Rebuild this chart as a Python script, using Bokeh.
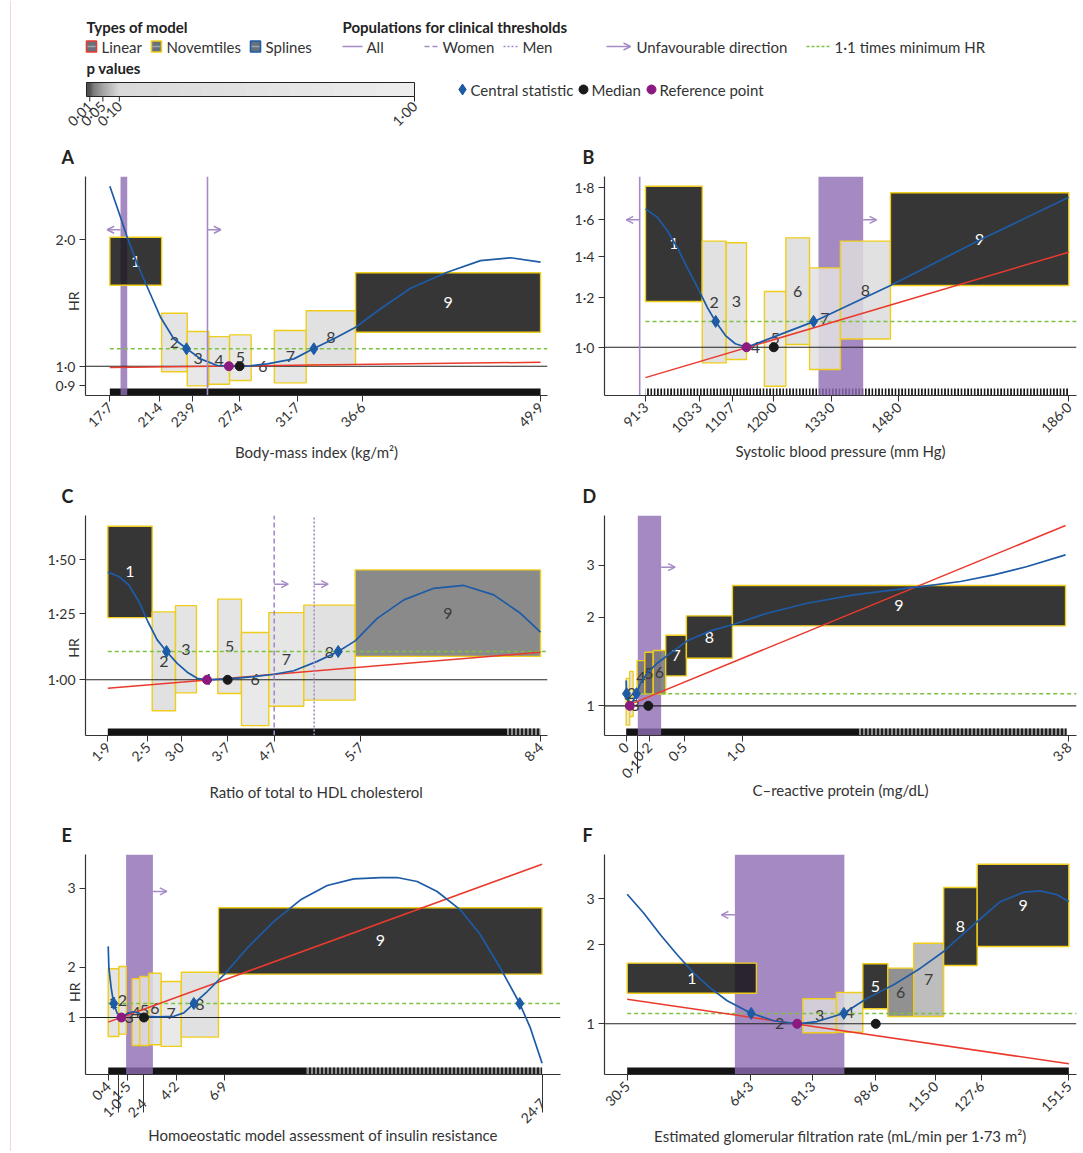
import numpy as np
from math import pi, sqrt
from bokeh.plotting import figure
from bokeh.layouts import column, row
from bokeh.models import Range1d, FixedTicker, Arrow, OpenHead, LinearAxis
from bokeh.core.properties import value
from bokeh.embed import file_html
from bokeh.resources import INLINE

NAN = float("nan")

# ---------------- Panel A: body-mass index ----------------
A_X_TICKS = [17.7, 21.4, 23.9, 27.4, 31.7, 36.6, 49.9]
A_X_LABELS = ["17·7", "21·4", "23·9", "27·4", "31·7", "36·6", "49·9"]
A_Y_TICKS = [0.9, 1.0, 2.0]
A_Y_LABELS = ["0·9", "1·0", "2·0"]
A_EDGES = [17.7, 21.57, 23.49, 25.1, 26.65, 28.27, 30.0, 32.38, 36.07, 49.9]
A_LOWER = [1.557, 0.970, 0.898, 0.906, 0.925, NAN, 0.913, 1.009, 1.204]
A_UPPER = [2.025, 1.336, 1.209, 1.176, 1.187, NAN, 1.216, 1.354, 1.667]
A_PVAL = [0.001, 0.70, 0.85, 0.80, 0.85, NAN, 0.80, 0.60, 0.001]
A_SPLINE_X = [17.7, 18.37, 19.0, 19.75, 20.44, 21.49, 22.48, 23.43, 24.48, 25.73, 26.6, 28.2,
              29.47, 31.46, 32.95, 34.45, 36.07, 37.94, 40.18, 42.92, 45.41, 47.66, 49.9]
A_SPLINE_HR = [2.677, 2.322, 2.025, 1.751, 1.557, 1.307, 1.162, 1.102, 1.041, 1.004, 1.0, 1.002,
               1.013, 1.041, 1.102, 1.162, 1.238, 1.369, 1.532, 1.672, 1.782, 1.810, 1.767]
A_LINEAR_X = [17.7, 49.9]
A_LINEAR_HR = [0.993, 1.022]
A_MIN_HR = 1.0
A_CENTRAL_X = [23.43, 32.95]
A_MEDIAN = 27.4
A_REFERENCE = 26.6
A_BANDS = [(18.5, 19.0)]
A_LINES = [(25.0, "all")]

# ---------------- Panel B: systolic blood pressure ----------------
B_X_TICKS = [91.3, 103.3, 110.7, 120.0, 133.0, 148.0, 186.0]
B_X_LABELS = ["91·3", "103·3", "110·7", "120·0", "133·0", "148·0", "186·0"]
B_Y_TICKS = [1.0, 1.2, 1.4, 1.6, 1.8]
B_Y_LABELS = ["1·0", "1·2", "1·4", "1·6", "1·8"]
B_EDGES = [91.3, 104.0, 109.35, 113.9, 117.9, 122.7, 128.0, 134.9, 146.1, 186.0]
B_LOWER = [1.184, 0.944, 0.956, NAN, 0.866, 1.010, 0.921, 1.031, 1.256]
B_UPPER = [1.811, 1.479, 1.470, NAN, 1.228, 1.497, 1.340, 1.479, 1.768]
B_PVAL = [0.001, 0.60, 0.70, NAN, 0.90, 0.60, 0.80, 0.60, 0.001]
B_SPLINE_X = [91.3, 93.9, 96.15, 98.4, 100.6, 102.9, 105.1, 107.0, 109.2, 111.4, 113.9, 117.0,
              119.9, 128.9, 146.1, 166.2, 186.0]
B_SPLINE_HR = [1.666, 1.616, 1.538, 1.446, 1.343, 1.248, 1.159, 1.099, 1.044, 1.013, 1.0, 1.019,
               1.038, 1.099, 1.256, 1.486, 1.739]
B_LINEAR_X = [91.3, 186.0]
B_LINEAR_HR = [0.894, 1.420]
B_MIN_HR = 1.0
B_CENTRAL_X = [107.0, 128.9]
B_MEDIAN = 120.0
B_REFERENCE = 113.9
B_BANDS = [(130.0, 140.0)]
B_LINES = [(90.0, "all")]

# ---------------- Panel C: total/HDL cholesterol ----------------
C_X_TICKS = [1.9, 2.5, 3.0, 3.7, 4.4, 5.7, 8.4]      # tick positions as drawn
C_X_LABELS = ["1·9", "2·5", "3·0", "3·7", "4·7", "5·7", "8·4"]
C_Y_TICKS = [1.0, 1.25, 1.5]
C_Y_LABELS = ["1·00", "1·25", "1·50"]
C_EDGES = [1.9, 2.567, 2.917, 3.232, 3.552, 3.908, 4.319, 4.844, 5.616, 8.4]
C_LOWER = [1.233, 0.901, 0.957, NAN, 0.955, 0.857, 0.915, 0.934, 1.082]
C_UPPER = [1.677, 1.257, 1.284, NAN, 1.312, 1.173, 1.254, 1.286, 1.448]
C_PVAL = [0.001, 0.60, 0.70, NAN, 0.70, 0.90, 0.80, 0.60, 0.04]
C_SPLINE_X = [1.9, 2.065, 2.215, 2.366, 2.501, 2.642, 2.782, 2.943, 3.093, 3.243, 3.393, 3.728,
              4.093, 4.394, 4.694, 5.046, 5.361, 5.616, 5.947, 6.347, 6.797, 7.248, 7.698, 8.099, 8.4]
C_SPLINE_HR = [1.437, 1.416, 1.377, 1.302, 1.217, 1.144, 1.100, 1.057, 1.026, 1.005, 1.0, 1.003,
               1.011, 1.019, 1.031, 1.064, 1.100, 1.140, 1.230, 1.309, 1.361, 1.374, 1.331, 1.251, 1.174]
C_LINEAR_X = [1.9, 8.4]
C_LINEAR_HR = [0.972, 1.097]
C_MIN_HR = 1.0
C_CENTRAL_X = [2.782, 5.361]
C_MEDIAN = 3.7
C_REFERENCE = 3.39
C_BANDS = []
C_LINES = [(4.4, "women"), (5.0, "men")]

# ---------------- Panel D: C-reactive protein ----------------
D_X_TICKS = [0.0, 0.1, 0.2, 0.5, 1.0, 3.8]
D_X_LABELS = ["0", "0·1", "0·2", "0·5", "1·0", "3·8"]
D_X_LOW = [0.1]
D_Y_TICKS = [1.0, 2.0, 3.0]
D_Y_LABELS = ["1", "2", "3"]
D_EDGES = [0.0, 0.03, 0.06, 0.094, 0.16, 0.232, 0.339, 0.517, 0.912, 3.771]
D_LOWER = [0.86, 0.92, NAN, 1.098, 1.098, 1.098, 1.264, 1.451, 1.870]
D_UPPER = [1.24, 1.31, NAN, 1.425, 1.521, 1.541, 1.737, 2.022, 2.563]
D_PVAL = [0.80, 0.70, NAN, 0.04, 0.025, 0.04, 0.001, 0.001, 0.001]
D_SPLINE_X = [0.0, 0.003, 0.015, 0.031, 0.06, 0.088, 0.123, 0.18, 0.266, 0.38, 0.524, 0.724,
              0.924, 1.21, 1.554, 1.954, 2.297, 2.526, 2.87, 3.155, 3.442, 3.771]
D_SPLINE_HR = [1.22, 1.10, 1.04, 1.0, 1.04, 1.10, 1.193, 1.291, 1.396, 1.509, 1.663, 1.798,
               1.894, 2.064, 2.232, 2.383, 2.479, 2.543, 2.645, 2.787, 2.974, 3.259]
D_LINEAR_X = [0.03, 3.771]
D_LINEAR_HR = [1.01, 4.10]
D_MIN_HR = 1.0
D_CENTRAL_X = [0.003, 0.088]
D_MEDIAN = 0.19
D_REFERENCE = 0.031
D_BANDS = [(0.1, 0.3)]
D_LINES = []

# ---------------- Panel E: HOMA-IR ----------------
E_X_TICKS = [0.4, 1.0, 1.5, 2.4, 4.2, 6.9, 24.7]
E_X_LABELS = ["0·4", "1·0", "1·5", "2·4", "4·2", "6·9", "24·7"]
E_X_LOW = [1.0, 2.4, 24.7]
E_Y_TICKS = [1.0, 1.533, 3.0]     # tick positions as drawn
E_Y_LABELS = ["1", "2", "3"]
E_EDGES = [0.4, 0.99, 1.41, 1.742, 2.167, 2.671, 3.364, 4.49, 6.57, 24.67]
E_LOWER = [0.851, 0.868, NAN, 0.788, 0.788, 0.793, 0.782, 0.846, 1.445]
E_UPPER = [1.513, 1.542, NAN, 1.389, 1.417, 1.457, 1.358, 1.469, 2.540]
E_PVAL = [0.70, 0.70, NAN, 0.80, 0.80, 0.70, 0.90, 0.60, 0.001]
E_SPLINE_X = [0.40, 0.44, 0.57, 0.71, 0.90, 1.14, 1.45, 1.75, 2.10, 2.43, 3.14, 4.07, 4.63, 5.19,
              5.94, 6.87, 8.17, 9.66, 11.16, 12.65, 14.14, 15.63, 16.56, 17.68, 18.80, 20.10,
              21.22, 22.34, 23.42, 24.02, 24.67]
E_SPLINE_HR = [1.83, 1.52, 1.28, 1.126, 1.037, 1.0, 1.03, 1.05, 1.04, 1.01, 1.005, 1.01, 1.04,
               1.126, 1.247, 1.437, 1.802, 2.260, 2.718, 3.069, 3.249, 3.285, 3.285, 3.176, 2.917,
               2.497, 2.019, 1.520, 1.126, 0.913, 0.678]
E_LINEAR_X = [0.4, 24.67]
E_LINEAR_HR = [0.961, 3.678]
E_MIN_HR = 1.024
E_CENTRAL_X = [0.71, 5.19, 23.42]
E_MEDIAN = 2.4
E_REFERENCE = 1.14
E_BANDS = [(1.4, 2.9)]
E_LINES = []

# ---------------- Panel F: eGFR ----------------
F_X_TICKS = [30.5, 64.3, 81.3, 98.6, 115.0, 127.6, 151.5]
F_X_LABELS = ["30·5", "64·3", "81·3", "98·6", "115·0", "127·6", "151·5"]
F_Y_TICKS = [1.0, 2.0, 3.0]
F_Y_LABELS = ["1", "2", "3"]
F_EDGES = [30.5, 65.9, 78.6, 87.8, 95.05, 101.9, 109.0, 117.2, 126.4, 151.5]
F_LOWER = [1.308, NAN, 0.924, 0.929, 1.141, 1.066, 1.066, 1.668, 1.970]
F_UPPER = [1.702, NAN, 1.245, 1.316, 1.693, 1.629, 2.028, 3.306, 4.055]
F_PVAL = [0.001, NAN, 0.50, 0.45, 0.002, 0.045, 0.08, 0.001, 0.001]
F_SPLINE_X = [30.5, 35.05, 39.6, 44.2, 48.75, 53.3, 57.9, 64.47, 70.67, 77.07, 82.55, 89.85, 96.25,
              103.5, 110.85, 117.2, 121.8, 126.4, 132.8, 139.2, 143.7, 148.3, 151.5]
F_SPLINE_HR = [3.117, 2.638, 2.183, 1.832, 1.559, 1.367, 1.224, 1.097, 1.027, 1.0, 1.020, 1.097,
               1.252, 1.408, 1.629, 1.886, 2.151, 2.453, 2.924, 3.172, 3.211, 3.101, 2.924]
F_LINEAR_X = [30.5, 151.5]
F_LINEAR_HR = [1.241, 0.704]
F_MIN_HR = 0.996
F_CENTRAL_X = [64.47, 89.85]
F_MEDIAN = 98.6
F_REFERENCE = 77.07
F_BANDS = [(60.0, 90.0)]
F_LINES = []

# p-value colour scale
P_STOPS = [0.0, 0.01, 0.02, 0.05, 0.10, 1.0]
LUM_STOPS = [18, 30, 80, 135, 205, 232]
LEGEND_P_TICKS = [0.01, 0.05, 0.10, 1.00]
LEGEND_P_LABELS = ["0·01", "0·05", "0·10", "1·00"]

# ---------------- styling ----------------
FONT = "Lato"
TXT = "#333333"
PURPLE_LINE = "#a48bc6"
PURPLE_BAND = "#8e6bb3"
YELLOW = "#f0cd1c"
BLUE = "#1d5ba6"
RED = "#ea3a2e"
GREEN = "#7cc143"
MAGENTA = "#8a1a7f"
RUG = "#141414"
FRAME_PINK = "#e6a9bb"
DASH = {"all": "solid", "women": "5 3", "men": "2 2"}
STRIP = 11          # width of the left page-border strip


def gray(p):
    v = int(round(float(np.interp(p, P_STOPS, LUM_STOPS))))
    return "#{0:02x}{0:02x}{0:02x}".format(v)


def style_axis(ax):
    ax.axis_line_color = "#333333"
    ax.axis_line_width = 1.2
    ax.major_tick_line_color = "#333333"
    ax.major_tick_out = 6
    ax.major_tick_in = 0
    ax.minor_tick_line_color = None
    ax.major_label_text_font = FONT
    ax.major_label_text_font_size = "14px"
    ax.major_label_text_color = TXT
    ax.axis_label_text_font = FONT
    ax.axis_label_text_font_size = "15px"
    ax.axis_label_text_color = TXT
    ax.axis_label_text_font_style = "normal"


def build(c, L):
    xs, xe = L["xr"]
    ys, ye = L["yr"]
    fw, fh = L["fw"], L["fh"]

    p = figure(frame_width=fw, frame_height=fh, x_range=Range1d(xs, xe), y_range=Range1d(ys, ye),
               y_axis_type="log", output_backend="svg", toolbar_location=None,
               min_border_left=L["bl"], min_border_right=L["br"], min_border_top=L["bt"],
               min_border_bottom=L["bb"], title=c["letter"])
    p.outline_line_color = None
    p.grid.visible = False
    t = p.title
    t.text_font = FONT
    t.text_font_size = "18px"
    t.text_font_style = "bold"
    t.text_color = "#222222"
    t.align = "left"
    t.offset = L["toff"]
    t.standoff = 18

    # rug of observations
    for a, b, kind in L["rug"]:
        kw = dict(x=[(a + b) / 2], y=[ys], width=[b - a], height=14, height_units="screen", line_color=None)
        if kind == "dense":
            p.rect(fill_color=RUG, **kw)
        elif kind == "sparse":
            p.rect(fill_color="#8a8a8a", hatch_pattern="vertical_line", hatch_color=RUG,
                   hatch_scale=4, hatch_weight=1.8, **kw)
        else:
            p.rect(fill_color="white", hatch_pattern="vertical_line", hatch_color=RUG,
                   hatch_scale=3.3, hatch_weight=1.9, **kw)

    # clinical threshold bands
    for a, b in c["bands"]:
        p.quad(left=[a], right=[b], bottom=[ys], top=[ye], fill_color=PURPLE_BAND, fill_alpha=0.8,
               line_color=None)

    # novemtile boxes
    e = c["edges"]
    lx, ly, lt, lc = [], [], [], []
    for i in range(9):
        xm = (e[i] + e[i + 1]) / 2
        lo, hi, pv = c["lower"][i], c["upper"][i], c["pval"][i]
        lx.append(xm)
        lt.append(str(i + 1))
        if np.isnan(lo):
            ly.append(1.0)
            lc.append("#3a3a3a")
            continue
        p.quad(left=[e[i]], right=[e[i + 1]], bottom=[lo], top=[hi], fill_color=gray(pv),
               fill_alpha=0.85, line_color=YELLOW, line_width=1.4)
        ly.append(sqrt(lo * hi))
        lc.append("white" if pv < 0.01 else "#3a3a3a")
    p.text(x=lx, y=ly, text=lt, text_color=lc, text_font=value(FONT), text_font_size="16px",
           text_align="center", text_baseline="middle")

    # reference lines
    p.segment(x0=[xs], x1=[xe], y0=[1.0], y1=[1.0], line_color="#222222", line_width=1.1)
    g = 1.1 * c["min_hr"]
    p.segment(x0=[c["xt"][0]], x1=[xe], y0=[g], y1=[g], line_color=GREEN, line_width=1.5,
              line_dash="4 3")

    # models
    p.line(c["lin_x"], c["lin_hr"], line_color=RED, line_width=1.5)
    p.line(c["spl_x"], c["spl_hr"], line_color=BLUE, line_width=1.7)

    # clinical threshold lines
    for xv, who in c["lines"]:
        p.segment(x0=[xv], x1=[xv], y0=[ys], y1=[ye], line_color=PURPLE_LINE, line_width=1.6,
                  line_dash=DASH[who])
    for x0, x1, yv in L["arrows"]:
        p.add_layout(Arrow(end=OpenHead(size=7, line_color=PURPLE_LINE, line_width=1.5),
                           x_start=x0, y_start=yv, x_end=x1, y_end=yv,
                           line_color=PURPLE_LINE, line_width=1.5))

    # points
    p.scatter(c["central"], [g] * len(c["central"]), marker="diamond", size=12,
              fill_color=BLUE, line_color=BLUE)
    p.scatter([c["median"]], [1.0], size=9, fill_color="#1a1a1a", line_color="#1a1a1a")
    p.scatter([c["reference"]], [1.0], size=9, fill_color=MAGENTA, line_color=MAGENTA)

    # x axis
    xa = p.xaxis[0]
    style_axis(xa)
    low = c.get("low", [])
    xa.ticker = FixedTicker(ticks=c["xt"])
    xa.major_label_overrides = {tv: ("" if tv in low else lab) for tv, lab in zip(c["xt"], c["xl"])}
    xa.major_label_orientation = pi / 4
    xa.major_label_standoff = 3
    if low:
        # second row of (staggered) tick labels for crowded ticks, with long ticks
        ax2 = LinearAxis(ticker=FixedTicker(ticks=low),
                         major_label_overrides={tv: lab for tv, lab in zip(c["xt"], c["xl"]) if tv in low})
        style_axis(ax2)
        ax2.axis_line_color = None
        ax2.major_tick_out = 0
        ax2.major_tick_in = L["low_tick"]
        ax2.major_label_orientation = pi / 4
        ax2.major_label_standoff = L["low_stand"]
        ax2.axis_label = c["xlabel"]
        ax2.axis_label_standoff = L["xstand"]
        p.add_layout(ax2, "below")
    else:
        xa.axis_label = c["xlabel"]
        xa.axis_label_standoff = L["xstand"]

    # y axis
    ya = p.yaxis[0]
    style_axis(ya)
    ya.ticker = FixedTicker(ticks=c["yt"])
    ya.major_label_overrides = dict(zip(c["yt"], c["yl"]))
    ya.major_label_standoff = 4
    if L.get("hr") is not None:
        hr_ax = LinearAxis(ticker=FixedTicker(ticks=[L["hr"]]), major_label_overrides={L["hr"]: "HR"})
        style_axis(hr_ax)
        hr_ax.axis_line_color = None
        hr_ax.major_tick_line_color = None
        hr_ax.major_tick_out = 0
        hr_ax.major_label_orientation = pi / 2
        hr_ax.major_label_standoff = L["hr_stand"]
        p.add_layout(hr_ax, "left")
    return p


def cfg(letter, xlabel, pre, **extra):
    g = globals()
    d = dict(letter=letter, xlabel=xlabel, xt=g[pre + "_X_TICKS"], xl=g[pre + "_X_LABELS"],
             yt=g[pre + "_Y_TICKS"], yl=g[pre + "_Y_LABELS"], edges=g[pre + "_EDGES"],
             lower=g[pre + "_LOWER"], upper=g[pre + "_UPPER"], pval=g[pre + "_PVAL"],
             spl_x=g[pre + "_SPLINE_X"], spl_hr=g[pre + "_SPLINE_HR"], lin_x=g[pre + "_LINEAR_X"],
             lin_hr=g[pre + "_LINEAR_HR"], min_hr=g[pre + "_MIN_HR"], central=g[pre + "_CENTRAL_X"],
             median=g[pre + "_MEDIAN"], reference=g[pre + "_REFERENCE"], bands=g[pre + "_BANDS"],
             lines=g[pre + "_LINES"])
    d.update(extra)
    return d


BL = 85 - STRIP
pA = build(cfg("A", "Body-mass index (kg/m²)", "A"),
           dict(xr=(15.88, 50.42), yr=(0.852, 2.823), fw=462, fh=219, bl=BL, br=16, bt=42, bb=78,
                toff=-24, xstand=4, hr=1.505, hr_stand=-21,
                rug=[(17.7, 49.9, "dense")],
                arrows=[(18.5, 17.5, 2.11), (25.0, 26.0, 2.11)]))
pB = build(cfg("B", "Systolic blood pressure (mm Hg)", "B"),
           dict(xr=(82.13, 187.72), yr=(0.837, 1.877), fw=472, fh=219, bl=41, br=4, bt=42, bb=78,
                toff=-22, xstand=-3, hr=None,
                rug=[(91.3, 186.0, "striped")],
                arrows=[(90.0, 87.0, 1.60), (140.0, 143.0, 1.60)]))
pC = build(cfg("C", "Ratio of total to HDL cholesterol", "C"),
           dict(xr=(1.565, 8.505), yr=(0.829, 1.739), fw=462, fh=220, bl=BL, br=16, bt=41, bb=77,
                toff=-24, xstand=9, hr=1.15, hr_stand=-29,
                rug=[(1.9, 7.9, "dense"), (7.9, 8.4, "sparse")],
                arrows=[(4.4, 4.61, 1.38), (5.0, 5.21, 1.38)]))
pD = build(cfg("D", "C–reactive protein (mg/dL)", "D", low=D_X_LOW),
           dict(xr=(-0.186, 3.865), yr=(0.793, 4.433), fw=472, fh=220, bl=41, br=4, bt=41, bb=77,
                toff=-22, xstand=-10, hr=None, low_tick=34, low_stand=-12,
                rug=[(0.0, 2.0, "dense"), (2.0, 3.78, "sparse")],
                arrows=[(0.3, 0.42, 2.96)]))
pE = build(cfg("E", "Homoeostatic model assessment of insulin resistance", "E", low=E_X_LOW),
           dict(xr=(-0.870, 25.70), yr=(0.616, 3.995), fw=475, fh=220, bl=BL, br=3, bt=42, bb=72,
                toff=-24, xstand=-9, hr=1.346, hr_stand=-10, low_tick=34, low_stand=-12,
                rug=[(0.4, 11.5, "dense"), (11.5, 24.67, "sparse")],
                arrows=[(2.9, 3.68, 2.92)]))
pF = build(cfg("F", "Estimated glomerular filtration rate (mL/min per 1·73 m²)", "F"),
           dict(xr=(24.28, 153.6), yr=(0.641, 4.415), fw=472, fh=220, bl=41, br=4, bt=42, bb=72,
                toff=-22, xstand=3, hr=None,
                rug=[(30.5, 151.5, "dense")],
                arrows=[(60.0, 56.3, 2.60)]))

# ---------------- legend block (page coordinates) ----------------
LW, LH = 1075 - STRIP, 134
leg = figure(width=LW, height=LH, x_range=Range1d(0, LW), y_range=Range1d(0, LH),
             output_backend="svg", toolbar_location=None, x_axis_location=None,
             y_axis_location=None, min_border=0, outline_line_color=None)
leg.grid.visible = False


def P(x, y):
    return x - STRIP, LH - y


def ltext(items, bold=False, size="15px"):
    leg.text(x=[P(x, y)[0] for x, y, _ in items], y=[P(x, y)[1] for x, y, _ in items],
             text=[s for _, _, s in items], text_font=value(FONT), text_font_size=size,
             text_font_style="bold" if bold else "normal", text_color="#222222" if bold else TXT,
             text_baseline="middle", text_align="left")


ltext([(86, 26, "Types of model"), (342, 26, "Populations for clinical thresholds"),
       (86, 67, "p values")], bold=True)
ltext([(101, 46, "Linear"), (166, 46, "Novemtiles"), (265, 46, "Splines"), (366, 46, "All"),
       (442, 46, "Women"), (522, 46, "Men"), (636, 46, "Unfavourable direction"),
       (834, 46, "1·1 times minimum HR"), (470, 89, "Central statistic"), (591, 89, "Median"),
       (659, 89, "Reference point")])

for cx, col in [(91, RED), (156, YELLOW), (255, BLUE)]:
    x, y = P(cx, 46)
    leg.rect(x=[x], y=[y], width=10, height=11, fill_color="#66717b", line_color=col, line_width=1.6)
    leg.segment(x0=[x - 4], x1=[x + 4], y0=[y], y1=[y], line_color="#9aa6b0", line_width=1.5)

for x0, x1, dash, colr in [(342, 362, "solid", PURPLE_LINE), (424, 438, "5 3", PURPLE_LINE),
                           (503, 518, "2 2", PURPLE_LINE), (806, 830, "3 2", GREEN)]:
    a, b = P(x0, 46)
    c_, _ = P(x1, 46)
    leg.segment(x0=[a], x1=[c_], y0=[b], y1=[b], line_color=colr, line_width=1.6, line_dash=dash)
a, b = P(606, 46)
c_, _ = P(630, 46)
leg.add_layout(Arrow(end=OpenHead(size=7, line_color=PURPLE_LINE, line_width=1.5), x_start=a,
                     y_start=b, x_end=c_, y_end=b, line_color=PURPLE_LINE, line_width=1.5))

# p-value colour bar
pv = np.linspace(0.0, 1.0, 329)
bx0, by0 = P(86, 96)
bx1, by1 = P(414, 82)
left = bx0 + pv[:-1] * (bx1 - bx0)
right = bx0 + pv[1:] * (bx1 - bx0)
leg.quad(left=left, right=right, bottom=by0, top=by1, fill_color=[gray(v) for v in pv[:-1]],
         line_color=None)
leg.quad(left=[bx0], right=[bx1], bottom=[by0], top=[by1], fill_color=None, line_color="#222222",
         line_width=1)
tx = [bx0 + v * (bx1 - bx0) for v in LEGEND_P_TICKS]
leg.segment(x0=tx, x1=tx, y0=[by0] * 4, y1=[by0 - 5] * 4, line_color="#222222", line_width=1)
leg.text(x=tx, y=[by0 - 7] * 4, text=LEGEND_P_LABELS, text_font=value(FONT), text_font_size="14px",
         text_color=TXT, text_align="right", text_baseline="middle", angle=pi / 4)

mx, my = P(462, 89)
leg.scatter([mx], [my], marker="diamond", size=11, fill_color=BLUE, line_color=BLUE)
mx, my = P(583, 89)
leg.scatter([mx], [my], size=9, fill_color="#1a1a1a", line_color="#1a1a1a")
mx, my = P(651, 89)
leg.scatter([mx], [my], size=9, fill_color=MAGENTA, line_color=MAGENTA)

# ---------------- thin page border (left and bottom) ----------------
TOTAL_H = 1151
side = figure(width=STRIP, height=TOTAL_H, x_range=Range1d(0, STRIP), y_range=Range1d(0, TOTAL_H),
              output_backend="svg", toolbar_location=None, x_axis_location=None,
              y_axis_location=None, min_border=0, outline_line_color=None)
side.grid.visible = False
side.segment(x0=[STRIP - 0.5], x1=[STRIP - 0.5], y0=[1], y1=[TOTAL_H], line_color=FRAME_PINK, line_width=1)
side.segment(x0=[STRIP - 1], x1=[STRIP], y0=[1.5], y1=[1.5], line_color=FRAME_PINK, line_width=1)
foot = figure(width=LW, height=TOTAL_H - 1145, x_range=Range1d(0, LW), y_range=Range1d(0, TOTAL_H - 1145),
              output_backend="svg", toolbar_location=None, x_axis_location=None,
              y_axis_location=None, min_border=0, outline_line_color=None)
foot.grid.visible = False
foot.segment(x0=[0], x1=[LW], y0=[1.5], y1=[1.5], line_color=FRAME_PINK, line_width=1)

layout = row(side, column(leg, row(pA, pB), row(pC, pD), row(pE, pF), foot))
open("out.html", "w").write(file_html(layout, INLINE))
